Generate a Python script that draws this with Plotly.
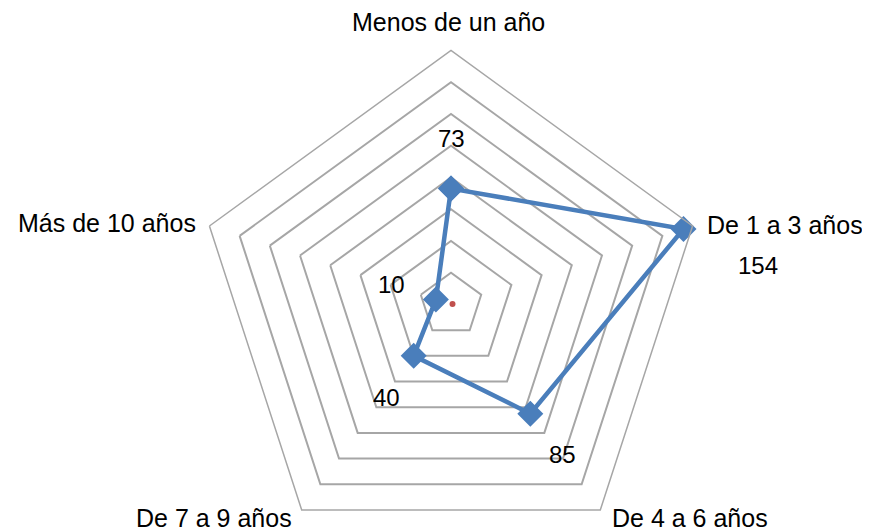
import plotly.graph_objects as go

categories = ["Menos de un año", "De 1 a 3 años", "De 4 a 6 años", "De 7 a 9 años", "Más de 10 años"]
values = [73, 154, 85, 40, 10]
label_texts = ["73", "154", "85", "40", "10"]
series2 = [1]

# text placement (page pixels)
value_label_px = [(452, 138), (758, 265), (562, 455), (386, 397), (391, 284)]
cat_label_px = [(448, 22, "center"), (705, 225, "left"), (610, 518, "left"),
                (294, 518, "right"), (198, 223, "right")]

OFF = 8  # default body margin of the html page
W, H = 870 - OFF, 553
cx, cy, R = 451 - OFF, 304.5 - OFF, 254

FONT = "Liberation Sans, Arial, sans-serif"

fig = go.Figure()
fig.add_trace(go.Scatterpolar(
    r=values + [values[0]],
    theta=categories + [categories[0]],
    mode="lines+markers",
    line=dict(color="#4A7EBB", width=4.5),
    marker=dict(symbol="diamond", size=20, color="#4A7EBB"),
    showlegend=False,
    cliponaxis=False,
))
fig.add_trace(go.Scatterpolar(
    r=series2,
    theta=[categories[1]],
    mode="markers",
    marker=dict(size=6, color="#C0504D"),
    showlegend=False,
    cliponaxis=False,
))

annotations = []
for t, (px, py) in zip(label_texts, value_label_px):
    annotations.append(dict(
        x=(px - OFF) / W, y=1 - (py - OFF) / H, xref="paper", yref="paper",
        text=t, showarrow=False, xanchor="center", yanchor="middle",
        font=dict(family=FONT, size=24, color="#000000"),
    ))
for t, (px, py, anc) in zip(categories, cat_label_px):
    annotations.append(dict(
        x=(px - OFF) / W, y=1 - (py - OFF) / H, xref="paper", yref="paper",
        text=t, showarrow=False, xanchor=anc, yanchor="middle",
        font=dict(family=FONT, size=25, color="#000000"),
    ))

fig.update_layout(
    width=W, height=H,
    margin=dict(l=0, r=0, t=0, b=0),
    paper_bgcolor="white", plot_bgcolor="white",
    font=dict(family=FONT, size=24, color="#000000"),
    annotations=annotations,
    polar=dict(
        domain=dict(x=[(cx - R) / W, (cx + R) / W], y=[max(0, 1 - (cy + R) / H), 1 - (cy - R) / H]),
        bgcolor="white",
        gridshape="linear",
        radialaxis=dict(range=[0, 160], dtick=20, tick0=0, showticklabels=False, ticks="",
                        showline=False, gridcolor="#a6a6a6", gridwidth=1.5),
        angularaxis=dict(rotation=90, direction="clockwise", showgrid=False, ticks="",
                         showticklabels=False,
                         showline=True, linecolor="#a6a6a6", linewidth=1.5),
    ),
)

fig.write_html("out.html")
